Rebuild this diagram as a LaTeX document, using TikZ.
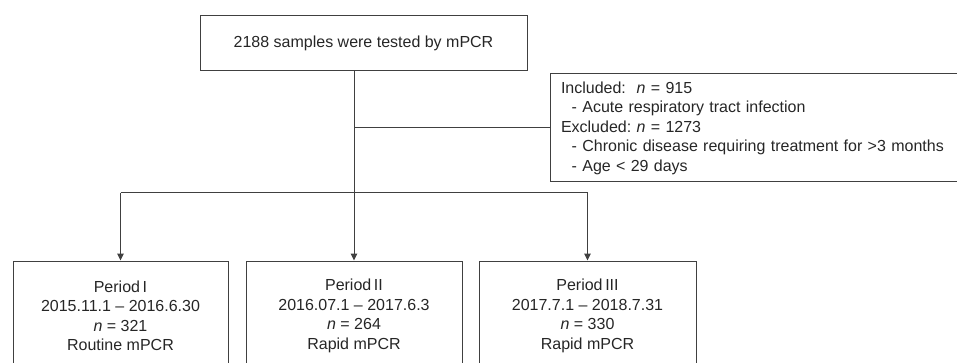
\documentclass[tikz,border=0pt]{standalone}
\usepackage{fontspec}
\setmainfont{Liberation Sans}
\usetikzlibrary{arrows.meta}
\definecolor{ln}{HTML}{404040}
\definecolor{tx}{HTML}{262626}
\begin{document}
\begin{tikzpicture}[x=1pt,y=-1pt,
  box/.style={draw=ln,line width=1pt,text=tx,inner sep=0pt,
    font=\fontsize{16}{19.5}\selectfont},
  conn/.style={draw=ln,line width=1pt},
  arr/.style={conn,-{Triangle[length=7pt,width=6.5pt]}}]
\useasboundingbox (0,0) rectangle (957,363);
\clip (0,0) rectangle (957,363);
\node[box,minimum width=327pt,minimum height=55pt] (top) at (363.5,43.5) {2188 samples were tested by mPCR};
\node[box,minimum height=108pt,align=left,text width=415pt] (side) at (757.5,128)
  {\hspace*{11pt}Included:\ \ \textit{n} = 915\\
   \hspace*{11pt}\ \ - Acute respiratory tract infection\\
   \hspace*{11pt}Excluded:\ \textit{n} = 1273\\
   \hspace*{11pt}\ \ - Chronic disease requiring treatment for >3 months\\
   \hspace*{11pt}\ \ - Age < 29 days};
\node[box,minimum width=215pt,minimum height=110pt,align=center] (p1) at (120.5,316)
  {Period\,I\\2015.11.1 -- 2016.6.30\\\textit{n} = 321\\Routine mPCR};
\node[box,minimum width=216pt,minimum height=110pt,align=center] (p2) at (354,316)
  {Period\,II\\2016.07.1 -- 2017.6.3\\\textit{n} = 264\\Rapid mPCR};
\node[box,minimum width=217pt,minimum height=110pt,align=center] (p3) at (587.5,316)
  {Period\,III\\2017.7.1 -- 2018.7.31\\\textit{n} = 330\\Rapid mPCR};
\coordinate (j1) at (354,128);
\coordinate (j2) at (354,193);
\draw[conn] (top.south -| j2) -- (j2);
\draw[conn] (j1) -- (j1 -| side.west);
\draw[conn] (p1.north |- j2) -- (p3.north |- j2);
\draw[arr] (p1.north |- j2) -- (p1.north);
\draw[arr] (j2) -- (p2.north);
\draw[arr] (p3.north |- j2) -- (p3.north);
\end{tikzpicture}
\end{document}
